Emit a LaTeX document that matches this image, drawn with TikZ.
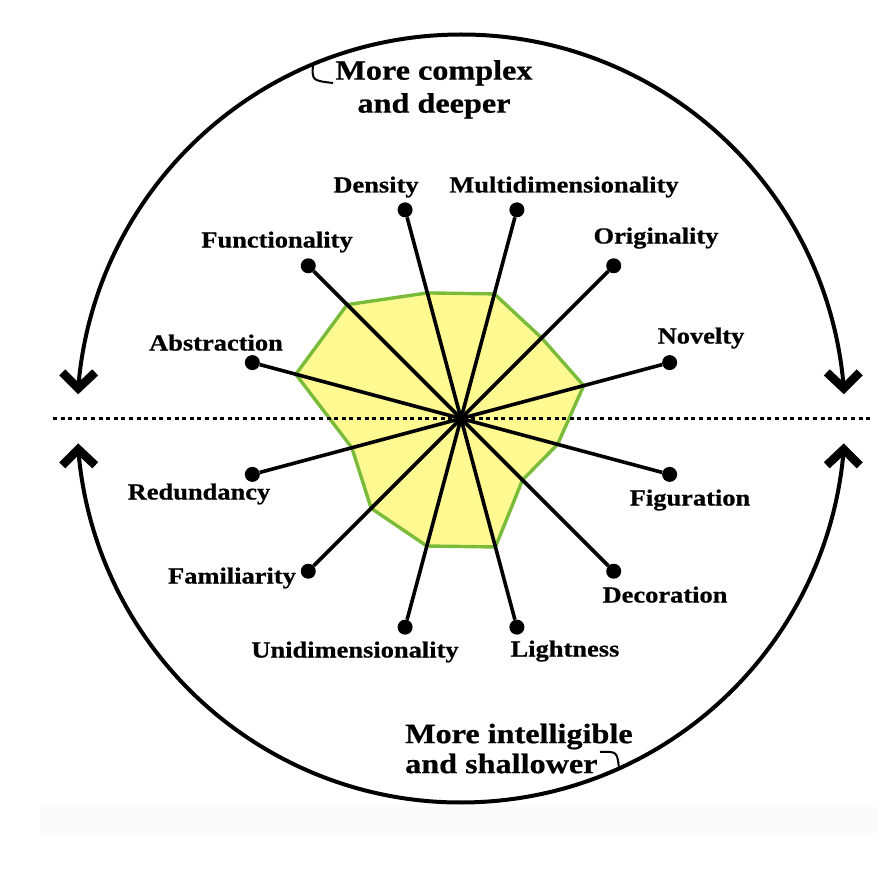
\documentclass[tikz,border=0pt]{standalone}
\usepackage{fontspec}
\setmainfont{Liberation Serif}[FakeStretch=1.15, BoldFeatures={FakeBold=0.7}]
\usepackage{tikz}
\usetikzlibrary{arrows.meta,positioning}
\definecolor{profilegreen}{RGB}{122,188,58}
\definecolor{profileyellow}{RGB}{255,249,145}

\tikzset{
  dot/.style={circle, fill=black, inner sep=0pt, minimum size=15pt},
  spoke/.style={line width=3.6pt},
  lbl/.style={font=\bfseries\fontsize{23}{26}\selectfont, inner sep=0pt, text height=15pt, text depth=0pt},
  bigtext/.style={font=\bfseries\fontsize{28}{33}\selectfont, inner sep=0pt},
  bigarc/.style={line width=4pt},
  chevron/.style={line width=8.5pt, line join=miter}
}

\begin{document}
\begin{tikzpicture}[x=1pt,y=1pt]
\useasboundingbox (-461,-449.5) rectangle (433,418.5);
\fill[black!2] (-421,-388.5) rectangle (416,-414.5);

% Create the profile polygon
\filldraw[fill=profileyellow, draw=profilegreen, line width=3.4pt, line join=round]
  (15:127) -- (45:114) -- (75:129) -- (105:130) -- (135:161) -- (165:171) --
  (195:113) -- (225:127) -- (255:132) -- (285:133) -- (315:87) -- (345:100) -- cycle;

% Dotted middle line
\coordinate (axl) at (-408,0);
\coordinate (axr) at (409,0);
\draw[line width=2.2pt, dash pattern=on 4pt off 3.6pt] (axl) -- (axr);

% Create nodes for the dimensions
\node[circle, fill=black, inner sep=0pt, minimum size=9pt] (ctr) at (0,0) {};
\node[dot] (novelty) at (15:216) {};
\node[dot] (originality) at (45:216) {};
\node[dot] (multi) at (75:216) {};
\node[dot] (density) at (105:216) {};
\node[dot] (functionality) at (135:216) {};
\node[dot] (abstraction) at (165:216) {};
\node[dot] (redundancy) at (195:216) {};
\node[dot] (familiarity) at (225:216) {};
\node[dot] (uni) at (255:216) {};
\node[dot] (lightness) at (285:216) {};
\node[dot] (decoration) at (315:216) {};
\node[dot] (figuration) at (345:216) {};

\draw[spoke] (ctr.center) -- (novelty);
\draw[spoke] (ctr.center) -- (originality);
\draw[spoke] (ctr.center) -- (multi);
\draw[spoke] (ctr.center) -- (density);
\draw[spoke] (ctr.center) -- (functionality);
\draw[spoke] (ctr.center) -- (abstraction);
\draw[spoke] (ctr.center) -- (redundancy);
\draw[spoke] (ctr.center) -- (familiarity);
\draw[spoke] (ctr.center) -- (uni);
\draw[spoke] (ctr.center) -- (lightness);
\draw[spoke] (ctr.center) -- (decoration);
\draw[spoke] (ctr.center) -- (figuration);

% Labels
\node[lbl] (densitylbl) at (-85,233.5) {Density};
\node[lbl] (functionalitylbl) at (-184,178.5) {Functionality};
\node[lbl] (abstractionlbl) at (-245,75.5) {Abstraction};
\node[lbl] (multilbl) at (103,233.5) {Multidimensionality};
\node[lbl] (originalitylbl) at (195,182.5) {Originality};
\node[lbl] (noveltylbl) at (240,82.5) {Novelty};
\node[lbl] (redundancylbl) at (-262,-73.5) {Redundancy};
\node[lbl] (familiaritylbl) at (-229,-157.5) {Familiarity};
\node[lbl] (unilbl) at (-106,-231.5) {Unidimensionality};
\node[lbl] (figurationlbl) at (229,-79.5) {Figuration};
\node[lbl] (decorationlbl) at (204,-176.5) {Decoration};
\node[lbl] (lightnesslbl) at (104,-230.5) {Lightness};

% Outer arcs with their arrow heads
\coordinate (tipur) at (4.5:384);
\coordinate (tipul) at (175.5:384);
\coordinate (tipll) at (184.6:384);
\coordinate (tiplr) at (355.4:384);
\draw[bigarc] (tipur) arc[start angle=4.5, end angle=175.5, radius=384];
\draw[bigarc] (tipll) arc[start angle=184.6, end angle=355.4, radius=384];
\draw[chevron] (tipul) ++(-16,16) -- (tipul) -- ++(17,16);
\draw[chevron] (tipur) ++(-17,16) -- (tipur) -- ++(16,16);
\draw[chevron] (tipll) ++(-16,-16) -- (tipll) -- ++(17,-16);
\draw[chevron] (tiplr) ++(-17,-16) -- (tiplr) -- ++(16,-16);

\node[bigtext, align=center, anchor=north] (deeper) at (-27,358.5) {More complex\\and deeper};
\node[bigtext, align=left, anchor=north west, font=\bfseries\fontsize{28}{30}\selectfont] (shallower) at (-56,-305) {More intelligible\\and shallower};

\coordinate (hooka) at (-148,354.5);
\coordinate (hookb) at (-128,335.5);
\draw[line width=2pt] (hooka) .. controls (-149,338) .. (hookb);
\coordinate (hookc) at (139,-333.5);
\coordinate (hookd) at (158,-349.5);
\draw[line width=2pt] (hookc) .. controls (156,-333) .. (hookd);
\end{tikzpicture}
\end{document}
